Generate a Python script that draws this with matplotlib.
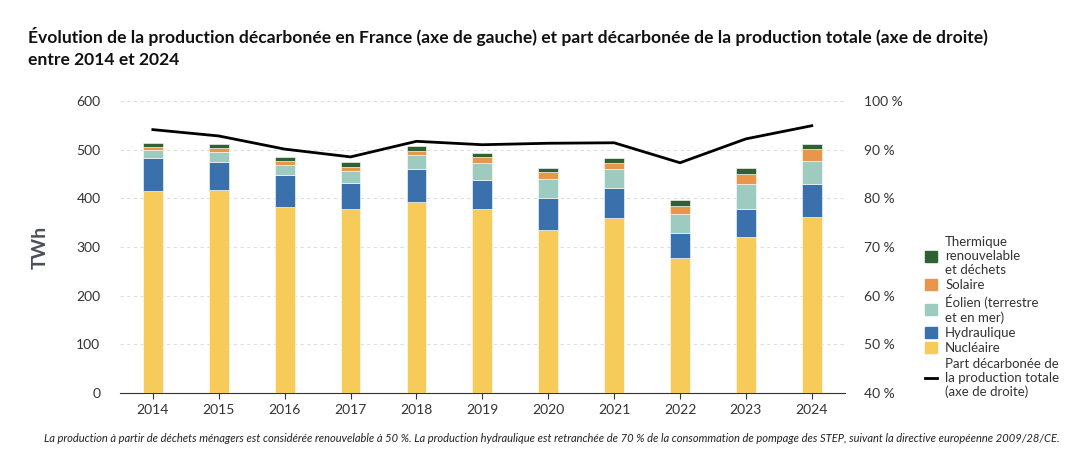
import matplotlib
matplotlib.use("Agg")
import matplotlib.pyplot as plt
from matplotlib.lines import Line2D
from matplotlib.patches import Patch
import numpy as np

plt.rcParams['font.family'] = ['Lato', 'DejaVu Sans']

years = ['2014','2015','2016','2017','2018','2019','2020','2021','2022','2023','2024']
nucleaire = [415,417,383,379,393,379,334,360,278,320,361]
hydro_top = [483,475,447,432,460,438,400,422,328,379,429]
eolien_top = [499,495,468,456,489,473,440,460,367,430,477]
solaire_top = [506,504,477,465,498,484,453,473,385,450,501]
total = [513,512,485,474,508,494,462,483,396,462,512]
part = [94.1,92.8,90.1,88.5,91.7,91.0,91.3,91.4,87.3,92.2,94.9]

hydraulique = list(np.subtract(hydro_top, nucleaire))
eolien = list(np.subtract(eolien_top, hydro_top))
solaire = list(np.subtract(solaire_top, eolien_top))
thermique = list(np.subtract(total, solaire_top))

c_nuc, c_hyd, c_eol, c_sol, c_the = '#f6cb5a', '#3a71ad', '#9dcbbf', '#e8964a', '#2f6133'

fig = plt.figure(figsize=(10.9, 4.67), dpi=100)
ax = fig.add_axes([0.110, 0.158, 0.665, 0.626])
x = np.arange(len(years))
w = 0.3
kw = dict(width=w, edgecolor='white', linewidth=0.4, zorder=3)
b = np.zeros(len(years))
for vals, c in [(nucleaire, c_nuc), (hydraulique, c_hyd), (eolien, c_eol), (solaire, c_sol), (thermique, c_the)]:
    ax.bar(x, vals, bottom=b, color=c, **kw)
    b += np.array(vals)

ax.set_ylim(0, 600)
ax.set_xlim(-0.5, 10.5)
ax.set_yticks(range(0, 601, 100))
ax.set_xticks(x)
ax.set_xticklabels(years)
ax.grid(axis='y', linestyle=(0, (3, 3)), color='#dddddd', linewidth=0.8, zorder=0)
for s in ['top', 'right', 'left']:
    ax.spines[s].set_visible(False)
ax.spines['bottom'].set_color('#333333')
ax.tick_params(axis='y', length=0, labelsize=10, colors='#333333', pad=14)
ax.tick_params(axis='x', length=4, labelsize=10, colors='#333333')
ax.set_ylabel('TWh', fontsize=14, fontweight='bold', color='#4a4f5a', labelpad=20)

ax2 = ax.twinx()
ax2.plot(x, part, color='black', linewidth=2, zorder=5)
ax2.set_ylim(40, 100)
ax2.set_yticks(range(40, 101, 10))
ax2.set_yticklabels([f'{v} %' for v in range(40, 101, 10)])
for s in ['top', 'right', 'left', 'bottom']:
    ax2.spines[s].set_visible(False)
ax2.tick_params(axis='y', length=0, labelsize=10, colors='#333333', pad=14)

handles = [Patch(color=c_the), Patch(color=c_sol), Patch(color=c_eol), Patch(color=c_hyd), Patch(color=c_nuc),
           Line2D([0], [0], color='black', linewidth=2)]
labels = ['Thermique\nrenouvelable\net déchets', 'Solaire', 'Éolien (terrestre\net en mer)', 'Hydraulique',
          'Nucléaire', 'Part décarbonée de\nla production totale\n(axe de droite)']
fig.legend(handles, labels, loc='upper left', bbox_to_anchor=(0.838, 0.52), frameon=False,
           fontsize=9.5, handlelength=0.9, handleheight=0.9, handletextpad=0.6, labelspacing=0.25,
           labelcolor='#333333')

fig.text(0.026, 0.898, "Évolution de la production décarbonée en France (axe de gauche) et part décarbonée de la production totale (axe de droite)\nentre 2014 et 2024",
         fontsize=12.6, fontweight='bold', va='center', linespacing=1.45, color='#111111')
fig.text(0.04, 0.06, "La production à partir de déchets ménagers est considérée renouvelable à 50 %. La production hydraulique est retranchée de 70 % de la consommation de pompage des STEP, suivant la directive européenne 2009/28/CE.",
         fontsize=8.0, style='italic', color='#222222', va='center')

fig.savefig('out.png', dpi=100)
